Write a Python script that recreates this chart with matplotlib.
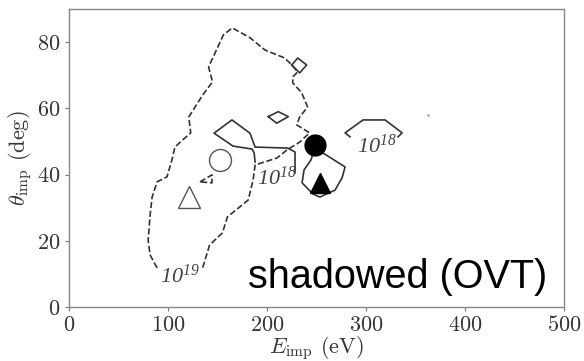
import matplotlib
matplotlib.use('Agg')
import matplotlib.pyplot as plt

plt.rcParams['font.family'] = 'cmr10'
plt.rcParams['mathtext.fontset'] = 'cm'
plt.rcParams['axes.formatter.use_mathtext'] = True
# italic serif digits for the contour level labels
plt.rcParams['mathtext.rm'] = 'Liberation Serif:italic'
plt.rcParams['mathtext.it'] = 'Liberation Serif:italic'

# 10^19 contour (dashed), left end to right end around the label
e_19 = [89, 82, 80, 82, 84, 89, 99, 104, 107, 115, 123, 121, 135, 145, 141, 156, 165,
        183, 198, 218, 225, 231, 226, 226, 235, 241, 233, 230, 243, 233, 220, 210,
        188, 186, 181, 160, 155, 142, 135]
th_19 = [11.8, 15.7, 20.2, 27.8, 33.2, 37.8, 39.3, 44.4, 48.3, 50.5, 52.6, 57.4, 64, 68,
         72.5, 82.2, 84.3, 81.3, 77.6, 75.2, 73.1, 71.0, 69.5, 67.7, 64.7, 60.4, 57.4,
         55, 52.6, 49.8, 47.4, 45, 42.9, 38.4, 32.3, 27.2, 22.4, 18.7, 11.8]

# small dashed island
e_19b = [132.3, 144.4, 144.4, 132.3]
th_19b = [37.8, 39.9, 37.5, 37.8]

# 10^18 contours (solid)
e_18a = [188, 187, 185, 165.7, 146.5, 164.6, 182.8, 188, 221, 228.3, 228.3]
th_18a = [43.8, 46.5, 47.7, 48.6, 52.5, 56.5, 52.5, 48.3, 48, 46.8, 40.5]

e_18b = [283.8, 278.8, 297, 319.2, 336.4, 332.3]
th_18b = [51.4, 52.6, 56.5, 56.5, 52.6, 51.4]

e_18c = [246.5, 256.6, 278.8, 275.8, 268.7, 257.6, 253.5, 246.5, 235.4, 237.4, 244.4, 246.5]
th_18c = [46.5, 46.5, 42.3, 39, 35.3, 33.8, 33.2, 34.1, 37.5, 41.4, 44.4, 46.5]

e_18d = [201.3, 211.4, 221.5, 209.8, 201.3]
th_18d = [57.5, 59, 57.5, 55.5, 57.5]

e_18e = [225, 231, 240, 233, 225]
th_18e = [73.1, 75.2, 73.1, 70.7, 73.1]

# contour level labels: (E, theta, text)
lab_e = [112, 210, 311]
lab_th = [9.7, 39.3, 49]
lab_txt = [r'$10^{19}$', r'$10^{18}$', r'$10^{18}$']

# measured points
open_circle = (152.5, 44.4)
open_tri = (121.2, 33.2)
full_circle = (248.5, 48.9)
full_tri = (253.5, 37.6)

fig = plt.figure(figsize=(5.84, 3.61), dpi=100)
ax = fig.add_axes([0.118, 0.1496, 0.848, 0.8254])

lc = '#333333'
ax.plot(e_19, th_19, '--', color=lc, lw=1.2)
ax.plot(e_19b, th_19b, '--', color=lc, lw=1.2)
for e, th in [(e_18a, th_18a), (e_18b, th_18b), (e_18c, th_18c),
              (e_18d, th_18d), (e_18e, th_18e)]:
    ax.plot(e, th, '-', color=lc, lw=1.2)

for x, y, t in zip(lab_e, lab_th, lab_txt):
    ax.text(x, y, t, fontsize=16, color='#444444', ha='center', va='center',
            math_fontfamily='custom')

ax.plot(*open_circle, 'o', ms=15.8, mfc='none', mec='#555555', mew=1.0)
ax.plot(*open_tri, '^', ms=16.5, mfc='none', mec='#555555', mew=1.0)
ax.plot(*full_circle, 'o', ms=15, color='black')
ax.plot(*full_tri, '^', ms=14.5, color='black')
ax.plot(362.6, 58, '.', ms=1.5, color='#999999')

ax.text(483, 5.7, 'shadowed (OVT)', family='Liberation Sans', fontsize=28.5,
        ha='right', va='baseline', color='black')

ax.set_xlim(0, 500)
ax.set_ylim(0, 90)
ax.set_xticks([0, 100, 200, 300, 400, 500])
ax.set_yticks([0, 20, 40, 60, 80])
ax.set_xlabel(r'$E_{\rm imp}$ (eV)', fontsize=16, color='#333333', labelpad=-1)
ax.set_ylabel(r'$\theta_{\rm imp}$ (deg)', fontsize=16, color='#333333', labelpad=2)
ax.tick_params(labelsize=16, length=3, width=0.8, color='#777777',
               labelcolor='#333333', pad=3)
for s in ax.spines.values():
    s.set_color('#888888')
    s.set_linewidth(1.0)

fig.savefig('out.png', dpi=100)
